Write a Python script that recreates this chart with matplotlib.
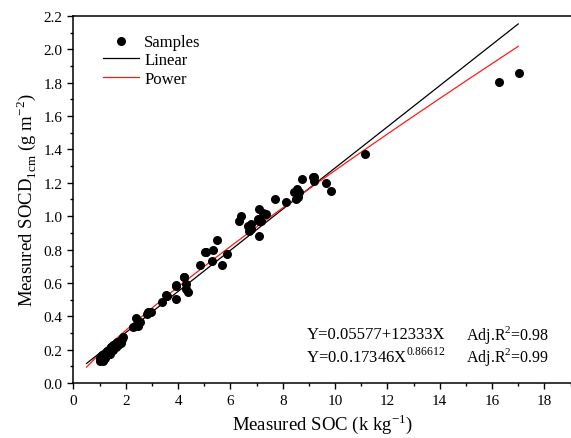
import matplotlib
matplotlib.use("Agg")
import matplotlib.pyplot as plt
import numpy as np
from matplotlib.ticker import MultipleLocator

plt.rcParams["font.family"] = ["Liberation Serif", "DejaVu Serif"]
plt.rcParams["mathtext.fontset"] = "custom"
plt.rcParams["mathtext.rm"] = "Liberation Serif"

# measured SOC (x) and measured SOCD_1cm (y)
soc = [1.00, 1.03, 1.07, 1.10, 1.12, 1.15, 1.18, 1.20, 1.22, 1.26, 1.28, 1.30,
       1.33, 1.36, 1.40, 1.42, 1.45, 1.50, 1.52, 1.58, 1.62, 1.66, 1.72, 1.77,
       1.82, 1.86, 1.90, 2.28, 2.34, 2.38, 2.47, 2.53, 2.81, 2.85, 2.98, 3.38,
       3.55, 3.59, 3.90, 3.90, 3.93, 4.21, 4.22, 4.31, 4.31, 4.37, 4.82, 5.03,
       5.05, 5.30, 5.35, 5.49, 5.68, 5.86, 6.34, 6.41, 6.66, 6.72, 6.79, 6.79,
       7.04, 7.08, 7.10, 7.10, 7.17, 7.23, 7.36, 7.71, 8.12, 8.44, 8.50, 8.54,
       8.60, 8.63, 8.73, 9.16, 9.19, 9.20, 9.65, 9.84, 11.14, 16.25, 17.04]
socd = [0.150, 0.134, 0.140, 0.170, 0.130, 0.145, 0.160, 0.175, 0.150, 0.180, 0.165, 0.190,
        0.188, 0.200, 0.175, 0.215, 0.214, 0.225, 0.200, 0.234, 0.215, 0.245, 0.230, 0.254,
        0.240, 0.265, 0.274, 0.334, 0.344, 0.388, 0.344, 0.364, 0.414, 0.424, 0.428, 0.484,
        0.528, 0.524, 0.588, 0.504, 0.583, 0.637, 0.634, 0.594, 0.564, 0.544, 0.709, 0.787,
        0.787, 0.733, 0.795, 0.860, 0.707, 0.774, 0.970, 1.001, 0.943, 0.913, 0.953, 0.923,
        0.983, 0.970, 1.043, 0.879, 0.973, 1.018, 1.013, 1.103, 1.085, 1.143, 1.103, 1.160,
        1.113, 1.145, 1.221, 1.233, 1.237, 1.213, 1.199, 1.150, 1.373, 1.806, 1.859]

# fitted models
lin_a, lin_b = 0.05577, 0.12333
pow_a, pow_b = 0.17346, 0.86612
fit_x = np.linspace(0.5, 17, 200)

fig = plt.figure(figsize=(5.71, 4.39), dpi=100)
ax = fig.add_axes([0.1287, 0.1253, 0.8705, 0.836])

ax.scatter(soc, socd, s=30, color="black", zorder=3, label="Samples")
ax.plot(fit_x, lin_a + lin_b * fit_x, color="black", lw=0.9, label="Linear")
ax.plot(fit_x, pow_a * fit_x ** pow_b, color="#ff1a1a", lw=0.9, label="Power")

ax.set_xlim(0, 19)
ax.set_ylim(0, 2.2)
ax.xaxis.set_major_locator(MultipleLocator(2))
ax.xaxis.set_minor_locator(MultipleLocator(1))
ax.yaxis.set_major_locator(MultipleLocator(0.2))
ax.yaxis.set_minor_locator(MultipleLocator(0.1))
ax.yaxis.set_major_formatter(matplotlib.ticker.FormatStrFormatter("%.1f"))
ax.tick_params(which="major", direction="out", length=4.5, width=1, labelsize=11)
ax.tick_params(which="minor", direction="out", length=2.5, width=1)
for sp in ax.spines.values():
    sp.set_linewidth(1.1)
ax.spines["right"].set_visible(False)

ax.set_xlabel("Measured SOC (k kg$^{\\mathregular{-1}}$)", fontsize=13.5, labelpad=3)
ax.set_ylabel("Measured SOCD$_{\\mathregular{1cm}}$ (g m$^{\\mathregular{-2}}$)", fontsize=13.5, labelpad=4)

ax.legend(loc="upper left", bbox_to_anchor=(0.045, 0.97), frameon=False, fontsize=12,
          handlelength=2.2, handletextpad=0.3, labelspacing=0.15, borderaxespad=0)

ax.text(8.9, 0.294, "Y=0.05577+12333X", fontsize=12, va="center")
ax.text(8.9, 0.164, "Y=0.0.17346X$^{\\mathregular{0.86612}}$", fontsize=12, va="center")
ax.text(15.0, 0.294, "Adj.R$^{\\mathregular{2}}$=0.98", fontsize=11.5, va="center")
ax.text(15.0, 0.164, "Adj.R$^{\\mathregular{2}}$=0.99", fontsize=11.5, va="center")

fig.savefig("out.png", dpi=100)
